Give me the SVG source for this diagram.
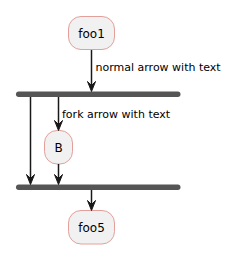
<svg xmlns="http://www.w3.org/2000/svg" width="241" height="263" viewBox="0 0 241 263">
<style>
.node{fill:#F1F1F1;stroke:#E2A09A;stroke-width:1}
.bar{fill:#555555;stroke:none}
.t{font-family:"DejaVu Sans",sans-serif;font-size:12px;fill:#000;text-anchor:middle}
.l{font-family:"DejaVu Sans",sans-serif;font-size:11px;fill:#000}
.c{stroke:#181818;stroke-width:1.5;fill:none}
.h{fill:#181818;stroke:#181818;stroke-width:1}
</style>
<rect width="241" height="263" fill="#FFFFFF"/>
<g id="foo1"><rect class="node" x="68.5" y="16.5" width="46" height="33" rx="12.5"/><text class="t" x="91.5" y="37.5">foo1</text></g>
<g id="fork1"><rect class="bar" x="16" y="91.5" width="164.5" height="5.5" rx="2.7"/></g>
<g id="B"><rect class="node" x="44.5" y="130.5" width="28" height="33.5" rx="12.5"/><text class="t" x="58.5" y="151.5">B</text></g>
<g id="join1"><rect class="bar" x="16" y="184.5" width="164.5" height="5.5" rx="2.7"/></g>
<g id="foo5"><rect class="node" x="68.5" y="210.5" width="46" height="33.5" rx="12.5"/><text class="t" x="91.5" y="231.5">foo5</text></g>
<g id="connectors">
<line class="c" x1="91.5" y1="50" x2="91.5" y2="88"/>
<polygon class="h" points="87.5,81.5 91.5,91.5 95.5,81.5 91.5,85.5"/>
<text class="l" x="95.5" y="71">normal arrow with text</text>
<line class="c" x1="30.5" y1="97" x2="30.5" y2="181"/>
<polygon class="h" points="26.5,174.5 30.5,184.5 34.5,174.5 30.5,178.5"/>
<line class="c" x1="58.5" y1="97" x2="58.5" y2="127"/>
<polygon class="h" points="54.5,120.5 58.5,130.5 62.5,120.5 58.5,124.5"/>
<text class="l" x="62" y="117.5">fork arrow with text</text>
<line class="c" x1="58.5" y1="164" x2="58.5" y2="181"/>
<polygon class="h" points="54.5,174.5 58.5,184.5 62.5,174.5 58.5,178.5"/>
<line class="c" x1="91.5" y1="190" x2="91.5" y2="207"/>
<polygon class="h" points="87.5,200.5 91.5,210.5 95.5,200.5 91.5,204.5"/>
</g>
</svg>
